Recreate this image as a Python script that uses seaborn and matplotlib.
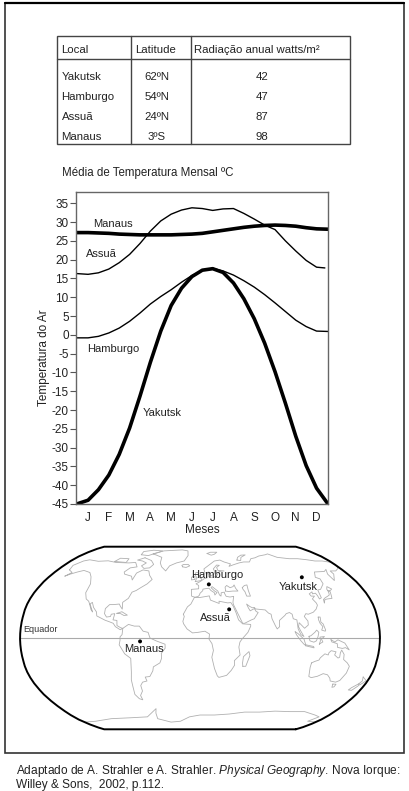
import numpy as np
import pandas as pd
import seaborn as sns
import matplotlib.pyplot as plt
from matplotlib.patches import Rectangle

# ---------------- dados ----------------
locais = ['Yakutsk', 'Hamburgo', 'Assuã', 'Manaus']
latitudes = ['62ºN', '54ºN', '24ºN', '3ºS']
radiacao = [42, 47, 87, 98]

meses = ['J', 'F', 'M', 'A', 'M', 'J', 'J', 'A', 'S', 'O', 'N', 'D']

# posição no eixo dos meses (1 = janeiro), lida a cada meio mês
pos = [0.45, 1, 1.5, 2, 2.5, 3, 3.5, 4, 4.5, 5, 5.5, 6, 6.5,
       7, 7.5, 8, 8.5, 9, 9.5, 10, 10.5, 11, 11.5, 12, 12.55]
pos_assua = pos[:-1] + [12.4]

temp_yakutsk = [-45, -44.0, -41.2, -37.3, -31.8, -24.8, -16.3, -7.3, 1.0, 7.8, 12.4, 15.5, 17.2,
                17.6, 16.6, 13.8, 9.6, 4.3, -2.2, -9.8, -18.2, -27.0, -34.8, -40.8, -45]
temp_hamburgo = [-0.8, -0.8, -0.4, 0.5, 1.8, 3.6, 5.8, 8.2, 10.2, 12.0, 14.0, 15.8, 17.1,
                 17.7, 17.0, 15.9, 14.4, 12.7, 10.7, 8.5, 6.2, 3.9, 2.2, 1.0, 0.9]
temp_assua = [16.3, 16.1, 16.5, 17.5, 19.2, 21.4, 24.3, 27.6, 30.3, 32.1, 33.2, 33.8, 33.6,
              33.1, 33.5, 33.6, 32.3, 30.8, 29.2, 28.0, 25.0, 22.3, 19.8, 18.0, 17.8]
temp_manaus = [27.2, 27.2, 27.1, 27.0, 26.8, 26.7, 26.6, 26.6, 26.6, 26.6, 26.7, 26.8, 27.0,
               27.4, 27.8, 28.2, 28.6, 28.9, 29.1, 29.2, 29.1, 28.9, 28.5, 28.2, 28.1]

# cidades no mapa (lon, lat lidos do mapa)
cid_nomes = ['Hamburgo', 'Yakutsk', 'Assuã', 'Manaus']
cid_lon = [10, 121, 30, -60]
cid_lat = [47.5, 54, 25.3, -3]

# contornos grosseiros dos continentes (lon, lat)
continentes = {
    'america_norte': [(-165, 61), (-168, 65.5), (-162, 70), (-156, 71.3), (-141, 69.7), (-128, 70.2), (-115, 68.5),
                      (-97, 68), (-88, 68.5), (-82, 64), (-90, 63), (-94, 59), (-92, 57), (-82, 55), (-79, 51.5),
                      (-78, 58), (-72, 61), (-64, 60), (-61, 56), (-56, 52), (-60, 48), (-66, 44.5), (-70, 42),
                      (-74, 40.5), (-76, 35), (-81, 31.5), (-80, 25.5), (-82.5, 28), (-84, 30), (-90, 29.5),
                      (-94, 29.5), (-97.5, 26), (-97.5, 21.5), (-95, 18.5), (-91, 19), (-90.5, 21), (-87, 21.5),
                      (-88, 16), (-84, 15.5), (-83.5, 11), (-79.5, 9), (-77.5, 8.5), (-80, 7.3), (-85, 10),
                      (-87.5, 13), (-92, 14.5), (-96, 15.7), (-105, 19.5), (-106, 23), (-110, 27), (-112.7, 31.5),
                      (-114.5, 30), (-110, 23), (-112, 25), (-115, 30), (-117, 32.5), (-120.5, 34.5), (-124, 40),
                      (-124.5, 48), (-130, 54.5), (-136, 58.5), (-146, 60.5), (-152, 59), (-158, 57), (-162, 55),
                      (-158, 58.5), (-165, 61)],
    'groenlandia': [(-73, 78), (-60, 82), (-30, 83.5), (-20, 82), (-18, 76), (-22, 70), (-32, 68), (-40, 65),
                    (-43, 60), (-50, 64), (-54, 68), (-56, 74), (-66, 76.5), (-73, 78)],
    'baffin': [(-80, 73.5), (-68, 70.5), (-62, 66.5), (-65, 63), (-72, 62.5), (-77, 65), (-73, 68), (-80, 70),
               (-88, 71), (-80, 73.5)],
    'ellesmere': [(-90, 77), (-78, 76), (-65, 80.5), (-62, 82), (-78, 83), (-92, 81), (-90, 77)],
    'victoria': [(-118, 69.5), (-101, 68.5), (-102, 72.5), (-115, 73), (-118, 69.5)],
    'cuba': [(-85, 21.8), (-80, 23.2), (-74, 20.2), (-77.5, 19.9), (-81, 21.5), (-85, 21.8)],
    'america_sul': [(-77.5, 8.5), (-72, 12), (-66, 10.5), (-61, 10.5), (-57, 6), (-52, 5), (-50, 0), (-44, -2.5),
                    (-35, -5.5), (-35, -9), (-39, -13.5), (-39, -18), (-41, -22), (-48, -25.5), (-49, -29),
                    (-53, -34), (-58, -34.5), (-57, -38), (-62, -39), (-65, -42), (-65, -47), (-69, -51),
                    (-68.5, -55), (-72, -54), (-75, -50), (-74, -43), (-73.5, -37), (-71.5, -30), (-70.3, -18),
                    (-76, -14), (-81, -6), (-80, -2), (-80, 1), (-78, 3), (-77.5, 8.5)],
    'africa': [(-17, 21), (-13, 27.5), (-9.5, 30), (-6, 35.8), (0, 35.8), (10, 37.2), (11, 33.5), (20, 30.5),
               (20, 32.5), (29, 31), (32.3, 31.3), (34.5, 28), (37, 22), (39, 16), (43, 12.5), (51, 12),
               (51, 10.5), (48, 5), (42, -1), (40, -3.5), (39, -8), (40.5, -15), (35, -20), (35.5, -24),
               (32.5, -28.5), (28, -33), (20, -34.8), (18.3, -33.5), (15, -27), (12, -17), (13.5, -11), (12, -5),
               (9, -1), (9.5, 3.5), (5, 6), (-2, 5), (-7.5, 4.5), (-13, 8), (-16.5, 12.5), (-17.3, 14.7),
               (-16, 19), (-17, 21)],
    'madagascar': [(44, -25), (47, -25), (50.5, -15.5), (49.3, -12), (44, -16.5), (43.5, -22), (44, -25)],
    'eurasia': [(-5.5, 36), (-9, 37), (-9.5, 43), (-1.5, 43.5), (-1.5, 46.5), (-4.5, 48), (-1, 49.5), (2, 51),
                (4.5, 52.5), (8.5, 53.5), (8.5, 57), (10.5, 57.5), (10.5, 54.5), (14, 54), (19.5, 54.5),
                (21, 56.5), (24, 59.5), (30, 60), (22.5, 60.5), (21.5, 63.5), (25.5, 65.5), (22, 65.8), (17, 62),
                (18.5, 59.5), (16.5, 56.5), (12.8, 55.5), (11, 59), (6, 58), (5, 62), (14, 67), (20, 70),
                (28, 71), (33, 69), (41, 67), (38, 64.5), (44, 66), (53, 68), (60, 69), (68, 69), (73, 72.5),
                (80, 73.5), (88, 75.5), (100, 77), (105, 78), (113, 74), (128, 72.5), (140, 72.5), (150, 71.5),
                (160, 70), (170, 70), (180, 68.5), (180, 65), (177, 62.5), (170, 60), (163, 60), (163, 57),
                (156, 51), (155.5, 57), (160, 61.5), (155, 59.5), (142, 59), (137, 54), (141, 52.5), (140, 48),
                (133, 43), (129.5, 42.5), (129, 35.5), (126.5, 34.5), (126, 37.5), (125, 39.6), (121.5, 39),
                (122, 40.8), (118, 39), (119, 37), (122.5, 37), (119, 34.5), (121.5, 31), (122, 29),
                (119.5, 25.5), (116, 22.8), (110.5, 21), (108, 21.5), (106, 19), (109, 15), (109, 11.5),
                (105, 8.6), (103, 10.5), (100, 13.5), (99, 10), (100.5, 7), (104, 1.3), (101, 3), (98.5, 8),
                (98, 16), (94.5, 17), (94, 21), (91.5, 22.5), (88, 21.5), (86.5, 20), (80.3, 15.5), (80, 10),
                (77.5, 8), (76, 10.5), (73, 17), (72.5, 21), (70, 22), (67, 24.8), (62, 25.2), (57, 25.7),
                (56.3, 27), (54, 26.7), (51.5, 27.9), (48.5, 30), (50, 26.5), (51.5, 24), (56, 26), (57.5, 23.5),
                (59.5, 22.5), (55, 17), (52, 16), (45, 13), (43, 13), (39, 21), (34.8, 29.5), (34.5, 31.5),
                (35.5, 35), (36, 36.8), (32, 36.2), (28, 36.8), (26.5, 39.5), (26.5, 40.5), (23, 40), (22.5, 37),
                (21, 38), (19.5, 41.5), (13.5, 45.5), (12.3, 44.5), (16, 41.5), (18.5, 40.2), (16, 38),
                (15.6, 40), (12, 42), (10, 44), (7.5, 43.8), (3.2, 43.2), (3, 41.8), (0, 39.5), (-0.5, 38),
                (-2, 36.7), (-5.5, 36)],
    'mar_negro': [(28, 41.5), (28, 45), (30, 46.5), (33.5, 44.5), (37, 45.5), (38.5, 47), (39.5, 44),
                  (41.5, 41.5), (36, 41.5), (31, 41.1), (28, 41.5)],
    'caspio': [(47, 44.5), (50, 46.5), (53, 47), (53, 42), (54, 37), (50, 37), (49, 41), (47.5, 43), (47, 44.5)],
    'gra_bretanha': [(-5.5, 50), (1.5, 51), (1.7, 52.7), (0, 53.5), (-2, 55.8), (-1.8, 57.6), (-3, 58.6),
                     (-5, 58.6), (-6, 56.5), (-5, 54.8), (-3, 53.5), (-4.5, 53.3), (-4.5, 51.7), (-5.5, 50)],
    'irlanda': [(-6, 52), (-6, 54), (-7.5, 55.2), (-10, 54), (-10, 51.6), (-6, 52)],
    'islandia': [(-22.5, 64), (-24, 65.5), (-22, 66.4), (-16, 66.5), (-13.5, 65), (-18, 63.4), (-22.5, 64)],
    'svalbard': [(11, 78.5), (17, 76.5), (22, 77.5), (27, 80), (17, 80), (11, 78.5)],
    'nova_zembla': [(52, 71), (57, 70.5), (60, 74), (69, 76.8), (62, 76.5), (55, 74), (52, 71)],
    'japao': [(130, 31), (132, 34), (135, 34.5), (140, 35), (141, 38), (142, 41), (140, 41.5), (139.8, 40),
              (139, 38), (136.8, 37), (133, 35.5), (130.5, 34), (130, 31)],
    'hokkaido': [(140, 42), (143, 42), (145.5, 43.3), (142, 45.5), (140, 43.2), (140, 42)],
    'filipinas': [(120, 18.5), (122, 18.5), (122, 14), (124, 12.5), (126, 7), (125.5, 6), (122, 7), (123.5, 10),
                  (121, 13), (120, 16), (120, 18.5)],
    'borneo': [(109, 1.5), (110, -2.5), (114, -3.7), (116.5, -2.5), (118, 1), (119, 5), (117, 7), (115, 5),
               (111, 2), (109, 1.5)],
    'sumatra': [(95.3, 5.5), (98, 4), (104, -1), (106, -6), (104.5, -5.8), (101, -2.5), (96.5, 3), (95.3, 5.5)],
    'java': [(105.5, -6.8), (114.5, -8.7), (114, -7.5), (106, -6), (105.5, -6.8)],
    'sulawesi': [(119.5, -5.5), (120.5, -2.5), (120, 0.8), (124.5, 1.3), (121.5, -1), (123, -3.5), (121, -4.5),
                 (119.5, -5.5)],
    'nova_guine': [(131, -1.5), (135, -3.5), (138, -1.6), (145, -4.5), (150, -10.5), (146, -8.5), (143, -9.2),
                   (138, -8.3), (137.5, -5), (132, -3.5), (131, -1.5)],
    'australia': [(114, -22), (113.5, -26), (115, -34), (118, -35), (124, -33.8), (129, -31.5), (134, -32.5),
                  (138, -35.5), (140, -38), (146.5, -39), (150, -37.5), (153, -31), (153.5, -25), (150.5, -22),
                  (146, -19), (145.5, -14.5), (142.5, -10.7), (141.5, -13), (141.5, -17), (140, -17.7),
                  (136, -15), (137, -12.2), (132, -11.2), (130, -13), (129.5, -15), (126, -14), (122, -17.5),
                  (121, -19.5), (117, -20.7), (114, -22)],
    'tasmania': [(144.7, -40.7), (148.3, -40.9), (148, -43.2), (146, -43.6), (144.7, -40.7)],
    'nz_norte': [(172.7, -34.4), (178.5, -37.7), (176.8, -39.5), (174.8, -41.3), (173, -40), (174.5, -38),
                 (172.7, -34.4)],
    'nz_sul': [(172.7, -40.5), (174.3, -41.7), (172.8, -43.6), (170.5, -46.3), (166.5, -46), (168, -44),
               (172.7, -40.5)],
    'antartida': [(-180, -78), (-160, -77), (-150, -76), (-130, -74), (-100, -73), (-75, -72), (-62, -66),
                  (-57, -63.5), (-60, -68), (-62, -74), (-45, -78), (-30, -77), (-15, -72), (0, -70), (20, -70),
                  (40, -69), (60, -67), (80, -67), (100, -66), (120, -66.5), (140, -66.5), (160, -70),
                  (170, -72), (165, -77), (180, -78)],
}

# tabela da projeção de Robinson
rob_lat = np.arange(0, 95, 5)
rob_X = [1.0000, 0.9986, 0.9954, 0.9900, 0.9822, 0.9730, 0.9600, 0.9427, 0.9216, 0.8962,
         0.8679, 0.8350, 0.7986, 0.7597, 0.7186, 0.6732, 0.6213, 0.5722, 0.5322]
rob_Y = [0.0000, 0.0620, 0.1240, 0.1860, 0.2480, 0.3100, 0.3720, 0.4340, 0.4958, 0.5571,
         0.6176, 0.6769, 0.7346, 0.7903, 0.8435, 0.8936, 0.9394, 0.9761, 1.0000]

# ---------------- estilo ----------------
sns.set_theme(style="white")
plt.rcParams['font.family'] = ['Liberation Sans', 'DejaVu Sans']
plt.rcParams['axes.unicode_minus'] = False
plt.rcParams['mathtext.fontset'] = 'custom'
plt.rcParams['mathtext.rm'] = 'Liberation Sans'
plt.rcParams['mathtext.it'] = 'Liberation Sans:italic'

W, H = 409, 791
fig = plt.figure(figsize=(W / 100, H / 100), dpi=100)

# eixo "tela" em pixels para moldura, tabela, mapa e legenda
tela = fig.add_axes([0, 0, 1, 1])
tela.set_xlim(0, W)
tela.set_ylim(H, 0)
tela.axis('off')

tela.add_patch(Rectangle((5, 3), 399, 750, fill=False, lw=1.2, ec='#333333'))
tela.plot([5, 404], [2.5, 2.5], color='black', lw=1.6)

# tabela
cor_tab = '#444444'
tela.add_patch(Rectangle((57, 36), 293, 108, fill=False, lw=1.0, ec=cor_tab))
tela.plot([57, 350], [58.5, 58.5], color=cor_tab, lw=1.0)
tela.plot([131, 131], [36, 144], color=cor_tab, lw=1.0)
tela.plot([190.5, 190.5], [36, 144], color=cor_tab, lw=1.0)
fs_tab = 8.2
tela.text(61, 50, 'Local', fontsize=fs_tab, va='center', ha='left', color='#222')
tela.text(135, 50, 'Latitude', fontsize=fs_tab, va='center', ha='left', color='#222')
tela.text(194, 50, 'Radiação anual watts/m²', fontsize=fs_tab, va='center', ha='left', color='#222')
for i, (loc, lat, rad) in enumerate(zip(locais, latitudes, radiacao)):
    yy = 77 + 20 * i
    tela.text(61.5, yy, loc, fontsize=fs_tab, va='center', ha='left', color='#222')
    tela.text(157, yy, lat, fontsize=fs_tab, va='center', ha='center', color='#222')
    tela.text(262, yy, str(rad), fontsize=fs_tab, va='center', ha='center', color='#222')

tela.text(62, 173, 'Média de Temperatura Mensal ºC', fontsize=8.3, va='center', ha='left', color='#222')

# ---------------- gráfico ----------------
ax = fig.add_axes([76 / W, 1 - 504 / H, 252 / W, 312 / H])
series = [
    ('Assuã', pos_assua, temp_assua, 1.0),
    ('Hamburgo', pos, temp_hamburgo, 1.0),
    ('Manaus', pos, temp_manaus, 2.6),
    ('Yakutsk', pos, temp_yakutsk, 2.6),
]
for nome, xs, ys, lw in series:
    df = pd.DataFrame({'mes': xs, 'temp': ys})
    sns.lineplot(data=df, x='mes', y='temp', ax=ax, color='black', linewidth=lw,
                 sort=True, estimator=None, solid_joinstyle='round', solid_capstyle='round')

ax.text(1.23, 29.4, 'Manaus', fontsize=8, va='center', ha='left', color='#222')
ax.text(0.92, 21.4, 'Assuã', fontsize=8, va='center', ha='left', color='#222')
ax.text(0.95, -3.8, 'Hamburgo', fontsize=8, va='center', ha='left', color='#222')
ax.text(3.65, -20.7, 'Yakutsk', fontsize=8, va='center', ha='left', color='#222')

ax.set_xlim(0.42, 12.55)
ax.set_ylim(-45, 38)
ax.set_yticks(range(-45, 36, 5))
ax.set_xticks(range(1, 13))
ax.set_xticklabels(meses)
ax.tick_params(axis='y', direction='out', length=4.3, width=0.8, color='#555', pad=1,
               labelsize=8.5, labelcolor='#222', left=True)
ax.tick_params(axis='x', length=0, pad=5.5, labelsize=8.5, labelcolor='#222')
for s in ax.spines.values():
    s.set_color('#666666')
    s.set_linewidth(1.0)
ax.set_xlabel('Meses', fontsize=8.5, color='#222', labelpad=0)
ax.set_ylabel('Temperatura do Ar', fontsize=8.5, color='#222')
ax.yaxis.set_label_coords(-0.102, 0.47)

# ---------------- mapa ----------------
MAP_CX, MAP_CY, MAP_R, MAP_H = 200, 638, 180, 91.3


def robinson(lon, lat):
    lon = np.asarray(lon, float)
    lat = np.asarray(lat, float)
    a = np.abs(lat)
    X = np.interp(a, rob_lat, rob_X)
    Y = np.interp(a, rob_lat, rob_Y) * np.sign(lat)
    return MAP_CX + MAP_R * X * lon / 180, MAP_CY - MAP_H * Y


for nome, pts in continentes.items():
    lo, la = zip(*pts)
    px, py = robinson(lo, la)
    tela.plot(px, py, color='#b0b0b0', lw=0.6)

ex, ey = robinson([-180, 180], [0, 0])
tela.plot(ex, ey, color='#aaaaaa', lw=0.8)
tela.text(23, 634, 'Equador', fontsize=6.5, va='bottom', ha='left', color='#333')

lat_b = np.linspace(-90, 90, 181)
bx1, by1 = robinson(np.full_like(lat_b, 180), lat_b)
bx2, by2 = robinson(np.full_like(lat_b, -180), lat_b[::-1])
tela.plot(np.r_[bx1, bx2, bx1[:1]], np.r_[by1, by2, by1[:1]], color='black', lw=1.4)

cx, cy = robinson(cid_lon, cid_lat)
sns.scatterplot(x=cx, y=cy, ax=tela, color='black', s=8, edgecolor='none')
rotulos = [(-18, -9), (-23, 10), (-29, 9), (-16, 8)]
for nome, x0, y0, (dx, dy) in zip(cid_nomes, cx, cy, rotulos):
    tela.text(x0 + dx, y0 + dy, nome, fontsize=8, va='center', ha='left', color='#222')

# fonte (um só texto de duas linhas)
tela.text(16, 763,
          'Adaptado de A. Strahler e A. Strahler. $\\mathit{Physical\\ Geography}$. Nova Iorque:\n'
          'Willey & Sons,  2002, p.112.',
          fontsize=8.6, va='top', ha='left', color='#222', linespacing=0.95)

fig.savefig('out.png', dpi=100)
